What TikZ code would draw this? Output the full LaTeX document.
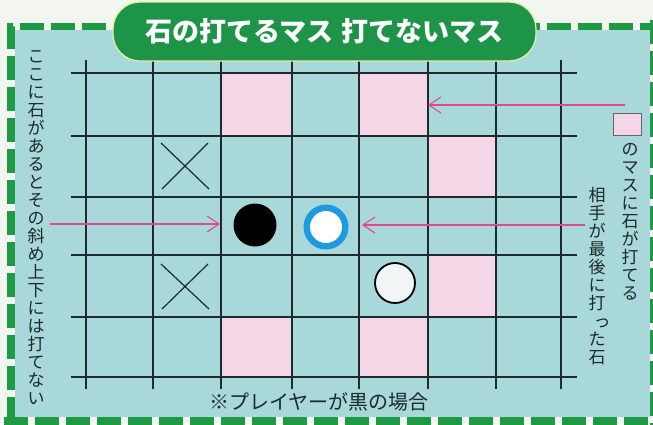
\documentclass[tikz,border=0pt]{standalone}
\usepackage{fontspec}
\newfontfamily\jp{Noto Sans CJK JP}
\usetikzlibrary{arrows.meta}
\definecolor{bgout}{HTML}{F3F5F1}
\definecolor{boardbg}{HTML}{A9D8DA}
\definecolor{bordergreen}{HTML}{1E9A44}
\definecolor{bannergreen}{HTML}{1D9447}
\definecolor{bannerrim}{HTML}{E4EFA8}
\definecolor{cellpink}{HTML}{F4D6E6}
\definecolor{gridc}{HTML}{1C2A2A}
\definecolor{arrowc}{HTML}{E04A8C}
\definecolor{ringblue}{HTML}{1E9BE0}
\definecolor{stonewhite}{HTML}{F2F5F5}
\begin{document}
\begin{tikzpicture}[x=1pt,y=-1pt,
  gridline/.style={draw=gridc, line width=1.1pt},
  pinkcell/.style={fill=cellpink},
  cross/.style={draw=gridc, line width=1.2pt},
  pointer/.style={draw=arrowc, line width=1.1pt, -{Straight Barb[length=12pt,width=16pt,line width=1.1pt]}},
  vtext/.style={font=\jp\fontsize{17}{18}\selectfont, text=gridc, align=center, inner sep=0pt, anchor=north},
]
\useasboundingbox (0,0) rectangle (653,424);
\fill[bgout] (0,0) rectangle (653,424);
\fill[boardbg] (15,30) rectangle (650,417);
\draw[bordergreen, line width=7.5pt, dash pattern=on 24pt off 7pt] (11,421) -- (11,26.5) -- (660,26.5);
\draw[bordergreen, line width=7.5pt, dash pattern=on 24pt off 7pt] (4,421) -- (660,421);
\draw[bordergreen, line width=7.5pt, dash pattern=on 24pt off 7pt] (654,20) -- (654,430);

% pink cells
\fill[pinkcell] (221,73) rectangle (292,136);
\fill[pinkcell] (359,73) rectangle (428,136);
\fill[pinkcell] (428,136) rectangle (496,197);
\fill[pinkcell] (428,255) rectangle (496,317);
\fill[pinkcell] (221,317) rectangle (292,377);
\fill[pinkcell] (359,317) rectangle (428,377);

% grid
\foreach \x in {86,153,221,292,359,428,496,561} \draw[gridline] (\x,60) -- (\x,389);
\foreach \y in {73,136,197,255,317,377} \draw[gridline] (71,\y) -- (577,\y);

% crosses
\draw[cross] (161,143) -- (209,189) (208,143) -- (162,189);
\draw[cross] (161,264) -- (209,309) (208,264) -- (162,309);

% stones
\node[circle, fill=black, minimum size=43pt, inner sep=0pt] (black) at (255,225) {};
\node[circle, fill=white, draw=ringblue, line width=6.4pt, minimum size=38.6pt, inner sep=0pt] (last) at (326,227) {};
\node[circle, fill=stonewhite, draw=black, line width=1.8pt, minimum size=40pt, inner sep=0pt] (white) at (395,283) {};

% banner
\node[fill=bannergreen, draw=bannerrim, line width=1.2pt, rounded corners=27pt, minimum width=423pt, minimum height=59pt, inner sep=0pt, text=white, font=\jp\bfseries\fontsize{27}{30}\selectfont] (title) at (324.5,31.5) {石の打てるマス\hspace{0.3em}打てないマス};

% legend square
\node[draw=gridc!70, fill=cellpink, line width=0.8pt, minimum width=28pt, minimum height=22pt, inner sep=0pt] (legend) at (627.5,124) {};

% texts
\node[vtext] (lefttext) at (36,50) {こ\\こ\\に\\石\\が\\あ\\る\\と\\そ\\の\\斜\\め\\上\\下\\に\\は\\打\\て\\な\\い};
\node[vtext] (legendtext) at (630,143) {の\\マ\\ス\\に\\石\\が\\打\\て\\る};
\node[vtext] (lasttexta) at (597,187) {相\\手\\が\\最\\後\\に\\打};
\node[font=\jp\fontsize{17}{18}\selectfont, text=gridc, inner sep=0pt, anchor=base, text height=0.5em, text depth=0pt] (tsu) at (602,327) {っ};
\node[vtext] (lasttextb) at (597,332) {た\\石};
\node[font=\jp\fontsize{20}{22}\selectfont, text=gridc, inner sep=0pt] (note) at (319,402) {※プレイヤーが黒の場合};

% arrow endpoints
\coordinate (a1s) at (625,105);
\coordinate (a1e) at (428,105);
\coordinate (a2s) at (50,224);
\coordinate (a2e) at (220,224);
\coordinate (a3s) at (585,225);
\coordinate (a3e) at (362,225);
\draw[pointer] (a1s) -- (a1e);
\draw[pointer] (a2s) -- (a2e);
\draw[pointer] (a3s) -- (a3e);
\end{tikzpicture}
\end{document}
